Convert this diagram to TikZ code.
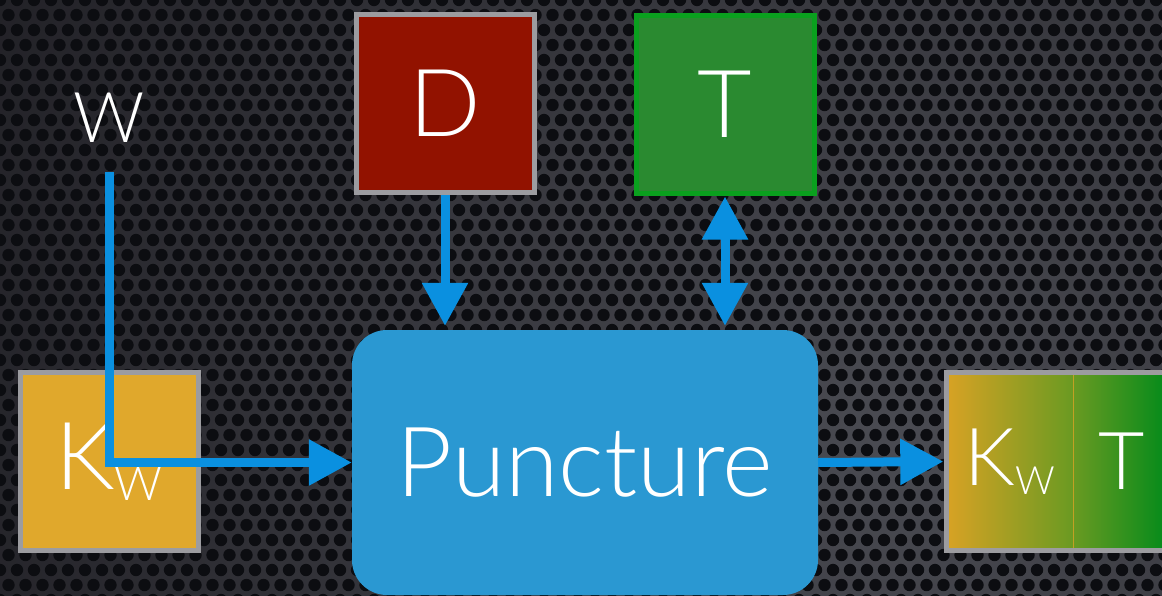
\documentclass[tikz,border=0pt]{standalone}
\usepackage{fontspec}
\setmainfont{Lato Light}
\usetikzlibrary{arrows.meta}

\definecolor{meshlo}{HTML}{16151A}
\definecolor{meshhi}{HTML}{4A4B52}
\definecolor{holecol}{HTML}{0C0D11}
\definecolor{flowblue}{HTML}{0A90E0}
\definecolor{punctblue}{HTML}{2A98D2}
\definecolor{dred}{HTML}{921200}
\definecolor{tgreen}{HTML}{2A8A30}
\definecolor{tedge}{HTML}{0AA01E}
\definecolor{kgold}{HTML}{E0A82C}
\definecolor{kgold2}{HTML}{D8A224}
\definecolor{olive}{HTML}{6A9A22}
\definecolor{deepgreen}{HTML}{008A1A}
\definecolor{edgegray}{HTML}{9C9CA0}

\tikzset{
  box/.style={draw=edgegray, line width=5pt, minimum width=178pt, minimum height=178pt,
    inner sep=0pt, text=white, font=\fontsize{94}{94}\selectfont},
  flow/.style={draw=flowblue, line width=9pt, -{Triangle[width=44pt,length=43pt]}},
  flowboth/.style={draw=flowblue, line width=9pt,
    {Triangle[width=44pt,length=43pt]}-{Triangle[width=44pt,length=43pt]}},
}
\newcommand{\kwsub}[1]{K\raisebox{-0.12em}{\fontsize{#1}{#1}\selectfont W}}

\begin{document}
\begin{tikzpicture}[x=1pt,y=-1pt]
\useasboundingbox (0,0) rectangle (1162,595);
\clip (0,0) rectangle (1162,595);

% mesh background
\fill[meshlo] (0,0) rectangle (1162,595);
\shade[inner color=meshhi, outer color=meshlo] (900,430) circle (1300);
\fill[holecol] \foreach \r in {0,...,40} {\foreach \c in {0,...,69} {({\c*17+mod(\r,2)*8.5},{\r*15}) circle (6.2)}};

% nodes
\node[anchor=base, inner sep=0pt, text depth=30pt, text=white,
  font=\fontsize{70}{70}\selectfont] (W) at (109,142) {W};
\node[box, fill=dred] (D) at (445,103.5) {D};
\node[box, fill=tgreen, draw=tedge] (T) at (725,104) {T};
\node[box, fill=kgold] (Kw) at (109,461.5) {\kwsub{47}};
\node[fill=punctblue, rounded corners=35pt, minimum width=466pt, minimum height=265pt,
  text=white, font=\fontsize{97}{97}\selectfont] (Punct) at (585,462.5) {Puncture};

% output pair
\node[left color=kgold2, right color=olive, minimum width=126.5pt, minimum height=178pt,
  inner sep=0pt, text=white, font=\fontsize{80}{80}\selectfont] (Kw2) at (1009.75,461.5) {\kwsub{39}};
\node[left color=olive, right color=deepgreen, minimum width=97pt, minimum height=178pt,
  inner sep=0pt, text=white, font=\fontsize{80}{80}\selectfont] (T2) at (1121.5,461.5) {T};
\draw[kgold2!80!olive, line width=0.8pt] (Kw2.north east) -- (Kw2.south east);
\draw[edgegray, line width=5pt] (Kw2.north west) rectangle (T2.south east);

% connectors
\draw[flow] (W.south) |- (Punct.west);
\draw[flow, shorten >=4pt] (D.south) -- (D.south |- Punct.north);
\draw[flowboth, shorten <=1pt, shorten >=4pt] (T.south) -- (T.south |- Punct.north);
\draw[flow, shorten >=3pt] (Punct.east) -- (Kw2.west);
\end{tikzpicture}
\end{document}
